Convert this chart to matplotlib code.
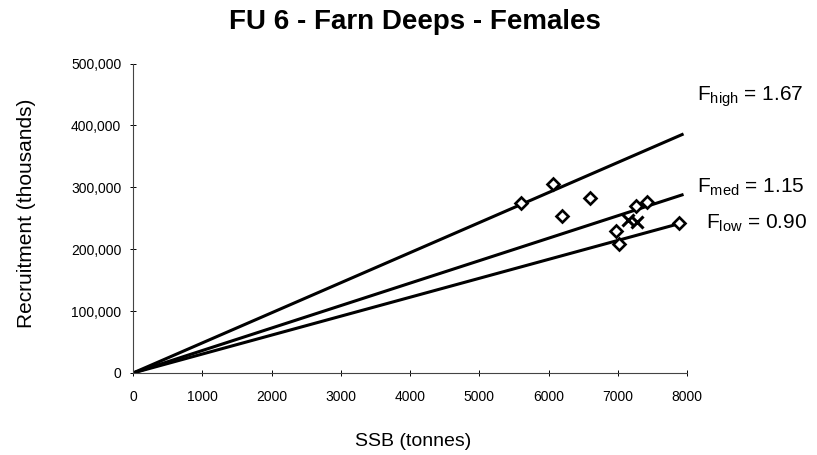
import numpy as np
import matplotlib
matplotlib.use("Agg")
import matplotlib.pyplot as plt
from matplotlib.ticker import FuncFormatter

plt.rcParams['font.family'] = ['Liberation Sans', 'DejaVu Sans']
plt.rcParams['mathtext.fontset'] = 'custom'
plt.rcParams['mathtext.rm'] = 'Liberation Sans'
plt.rcParams['mathtext.it'] = 'Liberation Sans'

# stock-recruit points (SSB tonnes, recruitment thousands)
ssb = [5600, 6060, 6190, 6600, 6970, 7020, 7270, 7420, 7890]
recruits = [275000, 305000, 253000, 283000, 230000, 209000, 270000, 276000, 242000]
# recent years (crosses)
ssb_x = [7150, 7280]
recruits_x = [248000, 244000]

# replacement lines: recruits per tonne of SSB
line_names = ['high', 'med', 'low']
line_f = ['1.67', '1.15', '0.90']
line_slope = [48.6, 36.3, 30.6]
line_end = 7950

W, H = 817, 455
fig = plt.figure(figsize=(W / 100, H / 100), dpi=100)
ax = fig.add_axes([133 / W, (H - 373) / H, 554 / W, 309.4 / H])

xs = np.array([0, line_end])
for s in line_slope:
    ax.plot(xs, s * xs, color='black', lw=2.2, solid_capstyle='butt', zorder=2)

ax.plot(ssb, recruits, linestyle='none', marker='D', markersize=6.5,
        markerfacecolor='white', markeredgecolor='black', markeredgewidth=1.9, zorder=3)
ax.plot(ssb_x, recruits_x, linestyle='none', marker='x', markersize=8,
        color='black', markeredgewidth=2.2, zorder=4)

# labels at line ends
label_pos = [(697, 97), (697, 187), (706, 223)]
for name, f, (lx, ly) in zip(line_names, line_f, label_pos):
    fig.text(lx / W, 1 - ly / H, r'F$_{\mathrm{%s}}$ = %s' % (name, f), fontsize=15,
             ha='left', va='center')

ax.set_xlim(0, 8000)
ax.set_ylim(0, 500000)
ax.set_xticks(range(0, 8001, 1000))
ax.set_yticks(range(0, 500001, 100000))
ax.yaxis.set_major_formatter(FuncFormatter(lambda v, p: '{:,.0f}'.format(v)))
ax.tick_params(direction='inout', length=5, width=0.7, labelsize=10, colors='black')
ax.tick_params(axis='x', pad=10)
ax.tick_params(axis='y', pad=6)

for side in ['top', 'right']:
    ax.spines[side].set_visible(False)
for side in ['left', 'bottom']:
    ax.spines[side].set_color('#444444')
    ax.spines[side].set_linewidth(0.8)

fig.text(415 / W, 1 - 22 / H, 'FU 6 - Farn Deeps - Females', fontsize=20, fontweight='bold',
         ha='center', va='center')
fig.text(413 / W, 1 - 441 / H, 'SSB (tonnes)', fontsize=14, ha='center', va='center')
fig.text(27 / W, 1 - 213 / H, 'Recruitment (thousands)', fontsize=15, rotation=90,
         ha='center', va='center')

fig.savefig('out.png', dpi=100)
